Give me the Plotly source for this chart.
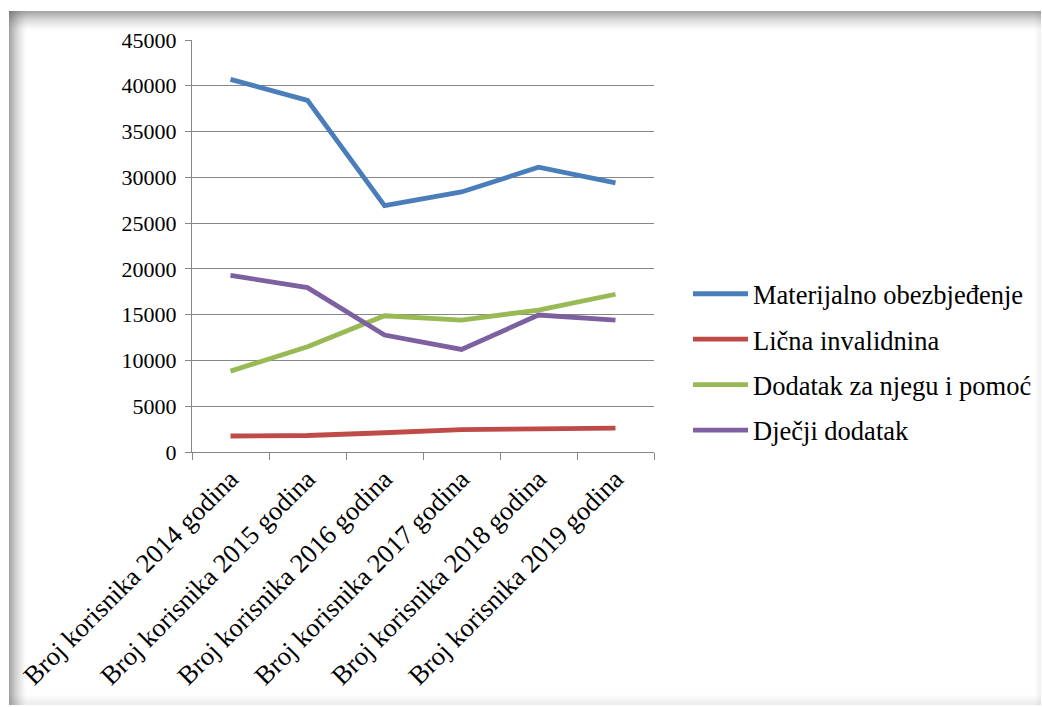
import plotly.graph_objects as go

categories = ["Broj korisnika 2014 godina", "Broj korisnika 2015 godina",
              "Broj korisnika 2016 godina", "Broj korisnika 2017 godina",
              "Broj korisnika 2018 godina", "Broj korisnika 2019 godina"]

materijalno = [40700, 38400, 26900, 28400, 31100, 29400]
licna = [1750, 1800, 2100, 2450, 2520, 2600]
dodatak_njega = [8830, 11490, 14880, 14410, 15500, 17230]
djecji = [19300, 17950, 12770, 11200, 14960, 14410]

series_names = ["Materijalno obezbjeđenje", "Lična invalidnina",
                "Dodatak za njegu i pomoć", "Dječji dodatak"]
series_values = [materijalno, licna, dodatak_njega, djecji]
series_colors = ["#4A7EBB", "#BE4B48", "#98B954", "#7D60A0"]

y_ticks = [0, 5000, 10000, 15000, 20000, 25000, 30000, 35000, 40000, 45000]

W, H = 1042, 707
L, R, T, B = 192, 388, 40, 255
PW, PH = W - L - R, H - T - B

def px(x):
    return (x - L) / PW

def py(y):
    return (H - B - y) / PH

FONT = "Liberation Serif"

fig = go.Figure()
for i, (name, vals, col) in enumerate(zip(series_names, series_values, series_colors)):
    fig.add_trace(go.Scatter(
        x=categories, y=vals, mode="lines", name=name,
        line=dict(color=col, width=4.8), legendgroup=f"g{i}",
    ))

shapes = []
# frame shadow gradients
fl, ft, fr, fb = 9, 11, 1041, 705
for i in range(20):
    op = 0.55 * (1 - i / 20) ** 1.5
    shapes.append(dict(type="rect", xref="paper", yref="paper",
                       x0=px(fl), x1=px(fr), y0=py(ft + i), y1=py(ft + i + 1),
                       fillcolor="rgb(90,90,90)", opacity=op, line_width=0, layer="below"))
for i in range(18):
    op = 0.55 * (1 - i / 18) ** 1.5
    shapes.append(dict(type="rect", xref="paper", yref="paper",
                       x0=px(fl + i), x1=px(fl + i + 1), y0=py(ft), y1=py(fb),
                       fillcolor="rgb(90,90,90)", opacity=op, line_width=0, layer="below"))
for i in range(10):
    op = 0.12 * (1 - i / 10)
    shapes.append(dict(type="rect", xref="paper", yref="paper",
                       x0=px(fl), x1=px(fr), y0=py(fb - i - 1), y1=py(fb - i),
                       fillcolor="rgb(90,90,90)", opacity=op, line_width=0, layer="below"))
for i in range(6):
    op = 0.08 * (1 - i / 6)
    shapes.append(dict(type="rect", xref="paper", yref="paper",
                       x0=px(fr - i - 1), x1=px(fr - i), y0=py(ft), y1=py(fb),
                       fillcolor="rgb(90,90,90)", opacity=op, line_width=0, layer="below"))

fig.update_layout(
    width=W, height=H, autosize=False,
    margin=dict(l=L, r=R, t=T, b=B, autoexpand=False),
    paper_bgcolor="white", plot_bgcolor="white",
    font=dict(family=FONT, color="#000000"),
    showlegend=True,
    legend=dict(x=px(688), y=py(362), xanchor="left", yanchor="middle",
                font=dict(family=FONT, size=26.5, color="#000000"),
                tracegroupgap=8, itemwidth=55, bgcolor="rgba(0,0,0,0)"),
    shapes=shapes,
    xaxis=dict(
        type="category", range=[-0.5, 5.5], tickangle=-45,
        tickfont=dict(family=FONT, size=26.5, color="#000000"),
        showgrid=False, showline=True, linecolor="#878787", linewidth=1,
        ticks="outside", tickson="boundaries", ticklen=7, tickcolor="#878787",
        automargin=False, fixedrange=True,
    ),
    yaxis=dict(
        range=[0, 45000], tickvals=y_ticks, ticktext=[str(v) for v in y_ticks],
        tickfont=dict(family=FONT, size=22, color="#000000"),
        showgrid=True, gridcolor="#878787", gridwidth=1,
        showline=True, linecolor="#878787", linewidth=1,
        ticks="outside", ticklen=6, tickcolor="#878787", zeroline=False,
        ticklabelstandoff=4, automargin=False,
        fixedrange=True,
    ),
)

fig.write_html("out.html", config={"displayModeBar": False},
               post_script="document.body.style.margin='0';document.body.style.padding='0';")
